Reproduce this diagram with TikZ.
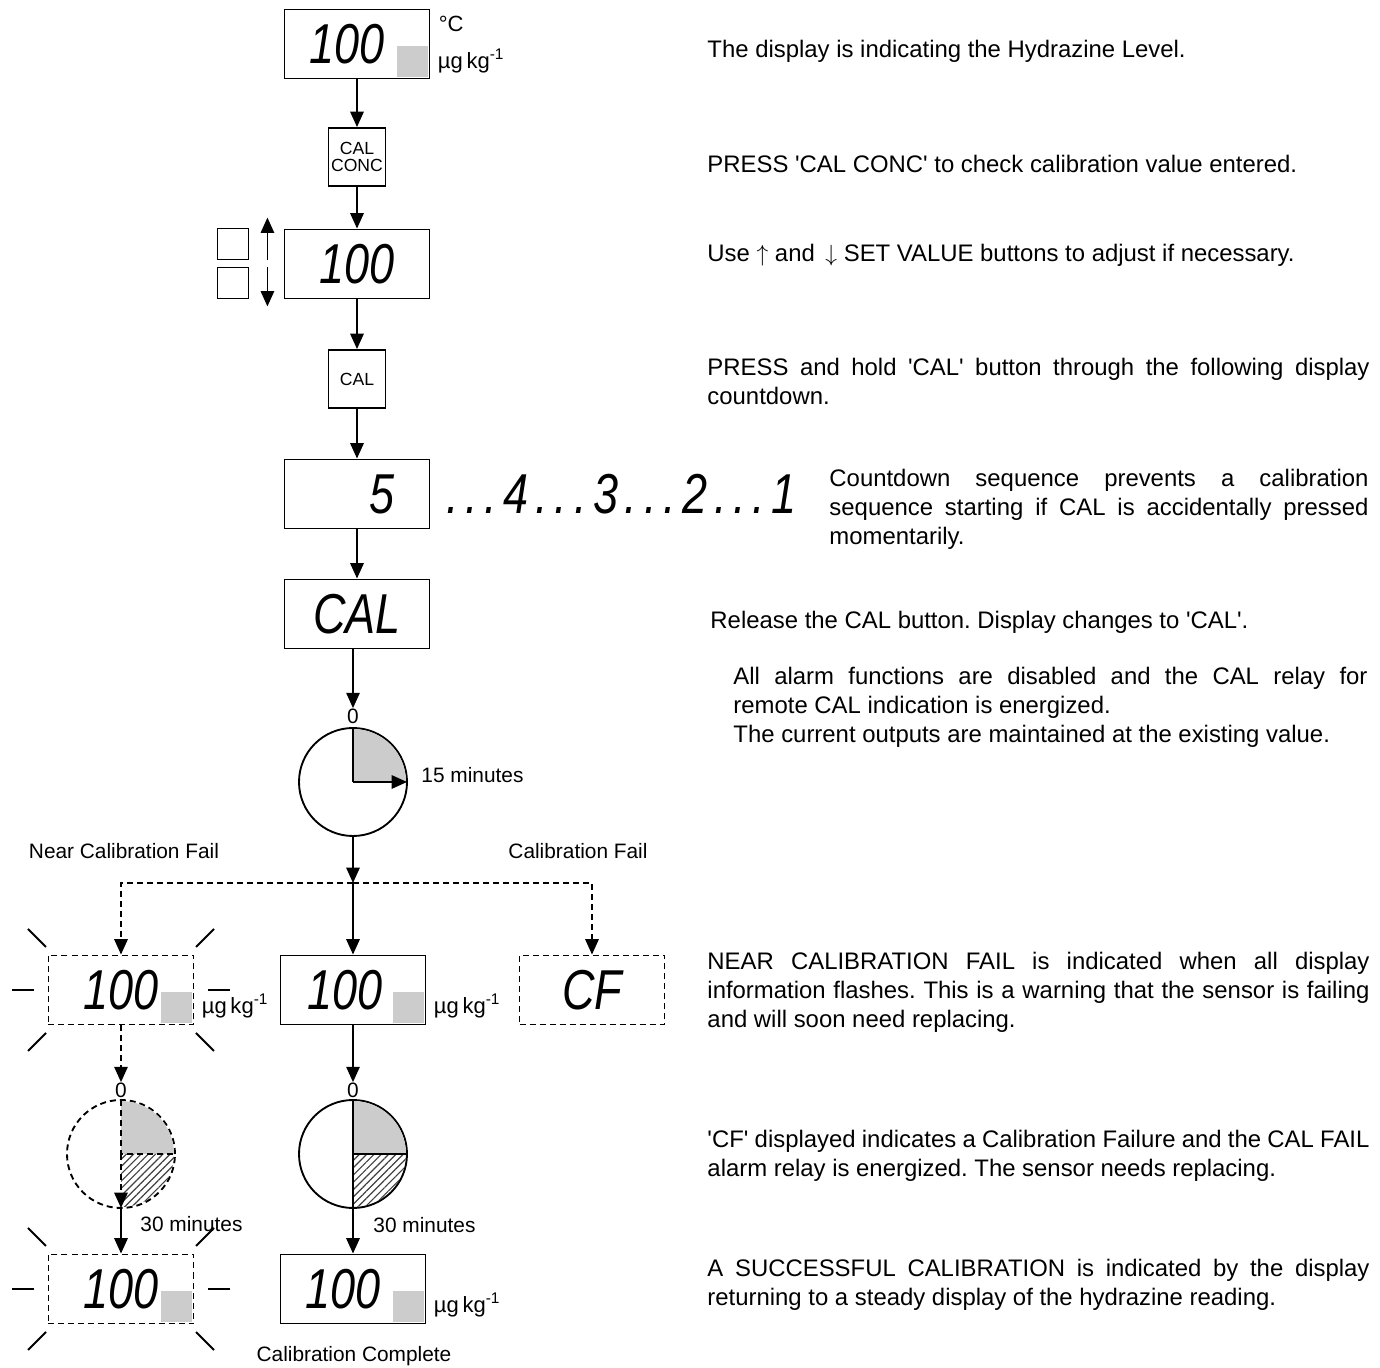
\documentclass[tikz,border=0pt]{standalone}
\usepackage{fontspec}
\setmainfont{Liberation Sans}
\newfontfamily\lcdfont{Liberation Sans}[FakeStretch=0.8]
\usepackage{tikz}
\usetikzlibrary{arrows.meta,calc,patterns.meta}
\definecolor{lcdgrey}{HTML}{CCCCCC}
\newcommand{\sq}{\textquotesingle}
\newcommand{\unitlab}{µg\,kg\textsuperscript{-1}}
\newcommand{\lcdgap}{\kern1mm}
% grey segment in the corner of a display
\newcommand{\greysq}[1]{\fill[lcdgrey] ($(#1.south east)+(-33,-2)$) rectangle ($(#1.south east)+(-2,-33)$);}
% flashing marks round a display
\newcommand{\flashrays}[1]{%
  \foreach \sx in {-1,1} {%
    \draw[ray] ($(#1)+(\sx*87,0)$) -- ($(#1)+(\sx*109,0)$);
    \foreach \sy in {-1,1}
      \draw[ray] ($(#1)+(\sx*75,\sy*43)$) -- ($(#1)+(\sx*93,\sy*61)$);
  }}
\tolerance=9999
\hbadness=10000
\frenchspacing

\begin{document}
\begin{tikzpicture}[x=0.15mm, y=-0.15mm,
  disp/.style={draw, thick, minimum width=21.75mm, minimum height=10.35mm, inner sep=0pt, font=\lcdfont\itshape\fontsize{24}{24}\selectfont},
  fdisp/.style={disp, dash pattern=on 0.9mm off 0.6mm},
  lcd/.style={inner sep=0pt, font=\lcdfont\itshape\fontsize{24}{24}\selectfont},
  keybox/.style={draw, thick, minimum width=8.55mm, minimum height=8.7mm, inner sep=0pt, align=center, font=\fontsize{7.5}{7.4}\selectfont},
  btn/.style={draw, thick, minimum size=4.65mm, inner sep=0pt},
  clock/.style={circle, draw, thick, minimum size=16.2mm, inner sep=0pt, outer sep=0pt},
  arr/.style={-{Triangle[length=2.3mm, width=2mm]}, thick},
  darr/.style={arr, dash pattern=on 0.9mm off 0.6mm},
  dsh/.style={thick, dash pattern=on 0.9mm off 0.6mm},
  ray/.style={thick},
  lab/.style={inner sep=0pt, font=\fontsize{8.9}{10}\selectfont},
  unit/.style={inner sep=0pt, anchor=base west, font=\fontsize{9.4}{11}\selectfont},
  txt/.style={inner sep=0pt, anchor=base west, text width=99.3mm, align=justify, font=\fontsize{10.2}{12.2}\selectfont},
  hatch/.style={pattern={Lines[angle=45, distance=2.2pt, line width=0.5pt]}, pattern color=black!75},
]
\useasboundingbox (0,0) rectangle (1380,1368);

% top display and keys
\node[disp] (d1) at (357,44) {100\kern3mm};
\greysq{d1}
\node[unit] (degc) at ($(d1.north east)+(8,23)$) {°C};
\node[unit] (u1) at ($(d1.south east)+(7,-11)$) {\unitlab};
\node[keybox] (kcc) at (357,157) {CAL\\CONC};
\node[disp] (d2) at (357,264) {100};
\node[btn] (ub) at (233,244) {};
\node[btn] (dnb) at (233,283) {};
\node[keybox] (kcal) at (357,379) {CAL};
\node[disp] (d5) at (357,494) {\hspace{7.4mm}5};
\node[lcd, anchor=west] (cd) at (446,494) {.\lcdgap.\lcdgap.\lcdgap4\lcdgap.\lcdgap.\lcdgap.\lcdgap3\lcdgap.\lcdgap.\lcdgap.\lcdgap2\lcdgap.\lcdgap.\lcdgap.\lcdgap1};
\node[disp] (dcal) at (357,614) {CAL};

% 15 minute timer
\node[lab] (z1) at (353,716) {0};
\node[clock] (c1) at (353,782) {};
\fill[lcdgrey] (c1.center) -- ++(0,-53) arc[start angle=-90, end angle=0, radius=53] -- cycle;
\draw[thick] (c1.north) -- (c1.center);
\draw[arr] (c1.center) -- (c1.east);
\node[lab, anchor=base west] (t15) at (421,783) {15 minutes};

% branches
\coordinate (jn) at (353,883);
\node[lab, anchor=base] (lnear) at (124,859) {Near Calibration Fail};
\node[lab, anchor=base] (lfail) at (578,859) {Calibration Fail};
\node[fdisp] (nb1) at (121,990) {100};
\greysq{nb1}
\flashrays{nb1}
\node[unit] (u2) at ($(nb1.south east)+(7,-12)$) {\unitlab};
\node[disp] (dm) at (353,990) {100\kern2.4mm};
\greysq{dm}
\node[unit] (u3) at ($(dm.south east)+(7,-12)$) {\unitlab};
\node[fdisp] (ncf) at (592,990) {CF};

% 30 minute timers
\node[lab] (z3) at (121,1090) {0};
\node[clock, dsh] (c3) at (121,1154) {};
\fill[lcdgrey] (c3.center) -- ++(0,-53) arc[start angle=-90, end angle=0, radius=53] -- cycle;
\fill[hatch] (c3.center) -- ++(53,0) arc[start angle=0, end angle=90, radius=53] -- cycle;
\draw[dsh] (c3.north) -- (c3.center) -- (c3.east);
\draw[arr, dsh] (c3.center) -- (c3.south);
\node[lab] (z2) at (353,1090) {0};
\node[clock] (c2) at (353,1154) {};
\fill[lcdgrey] (c2.center) -- ++(0,-53) arc[start angle=-90, end angle=0, radius=53] -- cycle;
\fill[hatch] (c2.center) -- ++(53,0) arc[start angle=0, end angle=90, radius=53] -- cycle;
\draw[thick] (c2.north) -- (c2.south);
\draw[thick] (c2.center) -- (c2.east);
\node[lab, anchor=base west] (t30a) at (140,1232) {30 minutes};
\node[lab, anchor=base west] (t30b) at (373,1233) {30 minutes};

% end displays
\node[fdisp] (nb2) at (121,1289) {100};
\greysq{nb2}
\flashrays{nb2}
\node[disp] (db) at (353,1289) {100\kern3.1mm};
\greysq{db}
\node[unit] (u4) at ($(db.south east)+(7,-12)$) {\unitlab};
\node[lab, anchor=base] (lok) at (354,1361) {Calibration Complete};

% arrows
\draw[arr] (d1) -- (kcc);
\draw[arr] (kcc) -- (d2);
\draw[arr] (d2) -- (kcal);
\draw[arr] (kcal) -- (d5);
\draw[arr] (d5) -- (dcal);
\draw[arr] (dcal.south -| z1) -- (z1);
\draw[arr] ($(ub.south east)+(18,0)$) -- ($(ub.north east)+(18,-10)$);
\draw[arr] ($(dnb.north east)+(18,0)$) -- ($(dnb.south east)+(18,7)$);
\draw[arr] (c1) -- (jn);
\draw[arr] (jn) -- (dm);
\draw[darr] (jn) -| (nb1);
\draw[darr] (jn) -| (ncf);
\draw[arr] (dm) -- (z2);
\draw[darr] (nb1) -- (z3);
\draw[arr] (c2) -- (db);
\draw[arr] (c3) -- (nb2);

% instructions
\node[txt] (p1) at (707,58) {The display is indicating the Hydrazine Level.};
\node[txt] (p2) at (707,173) {PRESS \sq CAL CONC\sq{} to check calibration value entered.};
\node[txt] (p3) at (707,262) {Use $\uparrow$ and\, $\downarrow$ SET VALUE buttons to adjust if necessary.};
\node[txt] (p4) at (707,376) {PRESS and hold \sq CAL\sq{} button through the following display\linebreak countdown.};
\node[txt, text width=80.85mm] (p5) at (829,487) {Countdown sequence prevents a calibration\linebreak sequence starting if CAL is accidentally pressed\linebreak momentarily.};
\node[txt] (p6) at (710,629) {Release the CAL button. Display changes to \sq CAL\sq.};
\node[txt, text width=95.1mm] (p7) at (733,685) {All alarm functions are disabled and the CAL relay for\linebreak remote CAL indication is energized.\\The current outputs are maintained at the existing value.};
\node[txt] (p8) at (707,970) {NEAR CALIBRATION FAIL is indicated when all display\linebreak information flashes. This is a warning that the sensor is failing\linebreak and will soon need replacing.};
\node[txt] (p9) at (707,1148) {\sq CF\sq{} displayed indicates a Calibration Failure and the CAL FAIL\linebreak alarm relay is energized. The sensor needs replacing.};
\node[txt] (p10) at (707,1277) {A SUCCESSFUL CALIBRATION is indicated by the display\linebreak returning to a steady display of the hydrazine reading.};
\end{tikzpicture}
\end{document}
